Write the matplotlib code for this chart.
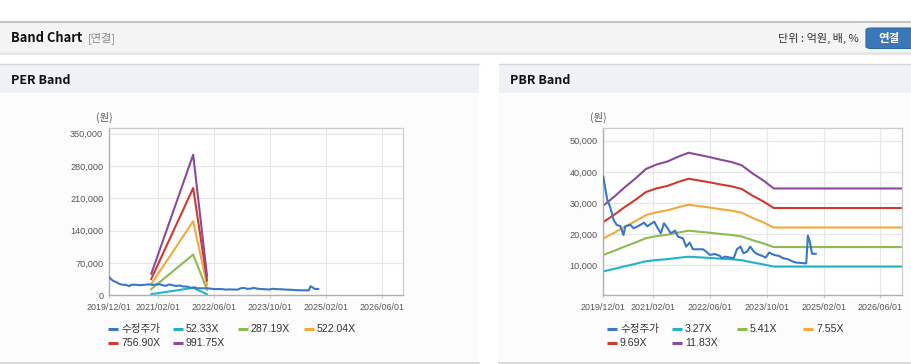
import matplotlib
matplotlib.use("Agg")
import matplotlib.pyplot as plt
import matplotlib.dates as mdates
from matplotlib.patches import Rectangle, FancyBboxPatch
from matplotlib.lines import Line2D
import pandas as pd

# ---------------- data ----------------
price_dates = ["2019-12-01", "2020-01-04", "2020-01-28", "2020-02-28", "2020-03-25", "2020-04-25",
               "2020-05-22", "2020-06-06", "2020-07-20", "2020-08-16", "2020-09-16", "2020-10-15",
               "2020-11-13", "2020-12-13", "2020-12-28", "2021-02-10", "2021-03-07", "2021-04-07",
               "2021-05-04", "2021-06-04", "2021-07-01", "2021-08-07", "2021-09-01", "2021-10-13",
               "2021-11-10", "2021-12-10", "2022-01-07", "2022-02-22", "2022-04-04", "2022-05-01",
               "2022-06-01", "2022-07-13", "2022-08-28", "2022-09-10", "2022-10-10", "2022-11-22",
               "2022-12-22", "2023-01-19", "2023-02-19", "2023-03-16", "2023-04-16", "2023-05-13",
               "2023-06-13", "2023-07-10", "2023-08-25", "2023-09-22", "2023-10-22", "2023-12-04",
               "2024-01-16", "2024-02-16", "2024-03-28", "2024-05-10", "2024-06-05", "2024-08-28",
               "2024-09-04", "2024-09-18", "2024-10-01", "2024-10-10", "2024-10-24", "2024-11-25"]
price_values = [38440, 31000, 28800, 24540, 22940, 22600,
                19730, 22500, 23000, 21900, 22400, 23000,
                23700, 22500, 22950, 24000, 22200, 20280,
                23500, 21880, 20280, 21130, 19200, 18670,
                16000, 17280, 15140, 15140, 15140, 14400,
                13320, 13640, 13000, 12250, 12790, 12470,
                12250, 15140, 16000, 13860, 14400, 16000,
                14400, 13640, 13000, 12470, 14070, 13320,
                13000, 12300, 11980, 11230, 10900, 10620,
                10640, 19500, 18140, 16500, 13700, 13700]

per_band_dates = ["2020-12-01", "2021-12-01", "2022-04-01"]
per_labels = ["52.33X", "287.19X", "522.04X", "756.90X", "991.75X"]
per_band_1 = [2460, 16065, 2198]
per_band_2 = [13500, 88167, 12062]
per_band_3 = [24535, 160266, 21926]
per_band_4 = [35574, 232368, 31790]
per_band_5 = [46612, 304467, 41654]

pbr_band_dates = ["2019-12-01", "2020-03-01", "2020-06-01", "2020-09-01", "2020-12-01", "2021-03-01",
                  "2021-06-01", "2021-09-01", "2021-12-01", "2022-03-01", "2022-06-01", "2022-09-01",
                  "2022-12-01", "2023-03-01", "2023-06-01", "2023-09-01", "2023-12-01", "2026-12-01"]
pbr_labels = ["3.27X", "5.41X", "7.55X", "9.69X", "11.83X"]
pbr_band_1 = [8061, 8829, 9679, 10464, 11314, 11707, 11968, 12393, 12753, 12557, 12361, 12132,
              11936, 11641, 10922, 10301, 9581, 9581]
pbr_band_2 = [13336, 14607, 16014, 17312, 18719, 19368, 19801, 20504, 21099, 20774, 20450, 20071,
              19747, 19260, 18069, 17042, 15851, 15851]
pbr_band_3 = [18611, 20385, 22348, 24160, 26123, 27029, 27633, 28615, 29445, 28992, 28539, 28011,
              27558, 26878, 25217, 23783, 22122, 22122]
pbr_band_4 = [23886, 26163, 28682, 31008, 33527, 34690, 35465, 36725, 37791, 37210, 36628, 35950,
              35369, 34496, 32365, 30524, 28392, 28392]
pbr_band_5 = [29161, 31941, 35017, 37856, 40932, 42351, 43298, 44836, 46137, 45427, 44717, 43889,
              43180, 42115, 39512, 37265, 34662, 34662]

price_label = "수정주가"
x_ticks = ["2019/12/01", "2021/02/01", "2022/06/01", "2023/10/01", "2025/02/01", "2026/06/01"]
per_yticks = [0, 70000, 140000, 210000, 280000, 350000]
pbr_yticks = [10000, 20000, 30000, 40000, 50000]

# ---------------- style ----------------
W, H = 912, 364
PRICE_C = "#3a78c6"
BAND_C = ["#22b4c9", "#8dba52", "#f4a83c", "#d03a2c", "#8d4a9c"]
LAT = ["Liberation Sans", "Noto Sans CJK KR", "DejaVu Sans"]
KR = ["Noto Sans CJK KR", "DejaVu Sans"]

fig = plt.figure(figsize=(W / 100, H / 100), dpi=100)
fig.patch.set_facecolor("white")


def fx(x):
    return x / W


def fy(y):
    return 1 - y / H


def rect(x0, y0, x1, y1, fc, ec="none", lw=0, z=-10):
    r = Rectangle((fx(x0), fy(y1)), fx(x1) - fx(x0), fy(y0) - fy(y1), transform=fig.transFigure,
                  facecolor=fc, edgecolor=ec, linewidth=lw, zorder=z)
    fig.add_artist(r)


def hline(x0, x1, y, c, lw=1.0, z=-5):
    fig.add_artist(Line2D([fx(x0), fx(x1)], [fy(y), fy(y)], transform=fig.transFigure,
                          color=c, linewidth=lw, zorder=z))


# page header bar
rect(0, 22, W, 52.5, "#f4f4f4")
hline(0, W, 22, "#b8b8b8", 1.2)
hline(0, W, 52.5, "#c4c4c4", 1.0)
hline(0, W, 54, "#e6e6e6", 1.5)
fig.text(fx(11), fy(38), "Band Chart", fontsize=9.3, fontweight="bold", family=KR,
         color="#111111", va="center", ha="left")
fig.text(fx(88), fy(38), "[연결]", fontsize=8, family=KR, color="#8a8a8a", va="center", ha="left")
fig.text(fx(859), fy(38.5), "단위 : 억원, 배, %", fontsize=8, family=KR, color="#333333",
         va="center", ha="right")
btn = FancyBboxPatch((fx(866), fy(48.5)), fx(60), fy(28) - fy(48.5),
                     boxstyle="round,pad=0,rounding_size=0.006", transform=fig.transFigure,
                     facecolor="#3a78b9", edgecolor="#2f67a3", linewidth=0.8, zorder=-4)
fig.add_artist(btn)
fig.text(fx(889), fy(38.5), "연결", fontsize=8.3, fontweight="bold", family=KR, color="white",
         va="center", ha="center")

# panels
for (x0, x1, title) in [(0, 479.3, "PER Band"), (499.3, W, "PBR Band")]:
    rect(x0, 64.3, x1, 92.5, "#eef2f7")
    hline(x0, x1, 64.3, "#d6d6d6", 1.0)
    rect(x0, 92.5, x1, 362, "#fcfcfc")
    hline(x0, x1, 362.5, "#d0d0d0", 1.2)
    fig.text(fx(x0 + 11), fy(80), title, fontsize=9, fontweight="bold", family=KR,
             color="#111111", va="center", ha="left")


def setup_axes(ax, ylim, yticks, show_labels):
    ax.set_facecolor("white")
    ax.set_xlim(pd.Timestamp("2019-12-01"), pd.Timestamp("2026-12-01"))
    ax.set_ylim(*ylim)
    ax.set_xticks(pd.to_datetime(x_ticks, format="%Y/%m/%d"))
    ax.xaxis.set_major_formatter(mdates.DateFormatter("%Y/%m/%d"))
    ax.set_yticks(yticks)
    ax.set_yticklabels(show_labels)
    ax.grid(True, color="#e6e6e6", linewidth=0.8)
    ax.set_axisbelow(True)
    for s in ["top", "right"]:
        ax.spines[s].set_color("#cccccc")
        ax.spines[s].set_linewidth(0.9)
    for s in ["left", "bottom"]:
        ax.spines[s].set_color("#b0b0b0")
        ax.spines[s].set_linewidth(1.0)
    ax.tick_params(axis="y", length=0, pad=4.3, labelsize=6.6, labelcolor="#555555")
    ax.tick_params(axis="x", length=2.5, width=0.8, color="#cccccc", pad=3.0, labelsize=6.4,
                   labelcolor="#555555")
    for lab in ax.get_xticklabels() + ax.get_yticklabels():
        lab.set_family(LAT)


price_dt = pd.to_datetime(price_dates)

# PER axes
ax1 = fig.add_axes([fx(109.3), fy(295.3), fx(402.7) - fx(109.3), fy(128.3) - fy(295.3)])
setup_axes(ax1, (0, 361700), per_yticks, [f"{v:,}" for v in per_yticks])
ax1.plot(price_dt, price_values, color=PRICE_C, linewidth=1.5, zorder=3)
per_dt = pd.to_datetime(per_band_dates)
for vals, c in zip([per_band_1, per_band_2, per_band_3, per_band_4, per_band_5], BAND_C):
    ax1.plot(per_dt, vals, color=c, linewidth=1.5, zorder=2)

# PBR axes
ax2 = fig.add_axes([fx(603.3), fy(295.3), fx(901.7) - fx(603.3), fy(128.3) - fy(295.3)])
setup_axes(ax2, (370, 53980), pbr_yticks, [f"{v:,}" for v in pbr_yticks])
pbr_dt = pd.to_datetime(pbr_band_dates)
for vals, c in zip([pbr_band_1, pbr_band_2, pbr_band_3, pbr_band_4, pbr_band_5], BAND_C):
    ax2.plot(pbr_dt, vals, color=c, linewidth=1.5, zorder=2)
ax2.plot(price_dt, price_values, color=PRICE_C, linewidth=1.5, zorder=3)

# unit labels
fig.text(fx(104), fy(117), "(원)", fontsize=7.5, family=KR, color="#555555", ha="center", va="center")
fig.text(fx(598), fy(117), "(원)", fontsize=7.5, family=KR, color="#555555", ha="center", va="center")


def legend(x0, y0, labels):
    cols = [0, 65, 130, 196]
    for i, (lab, c) in enumerate(labels):
        r, k = divmod(i, 4)
        x = x0 + cols[k]
        y = y0 + r * 14
        fig.add_artist(Line2D([fx(x), fx(x + 10)], [fy(y), fy(y)], transform=fig.transFigure,
                              color=c, linewidth=2.2, solid_capstyle="butt"))
        fig.text(fx(x + 13), fy(y), lab, fontsize=7.6, family=LAT, color="#333333",
                 ha="left", va="center")


legend(108, 329, [(price_label, PRICE_C)] + list(zip(per_labels, BAND_C)))
legend(607, 329, [(price_label, PRICE_C)] + list(zip(pbr_labels, BAND_C)))

fig.savefig("out.png", dpi=100)
